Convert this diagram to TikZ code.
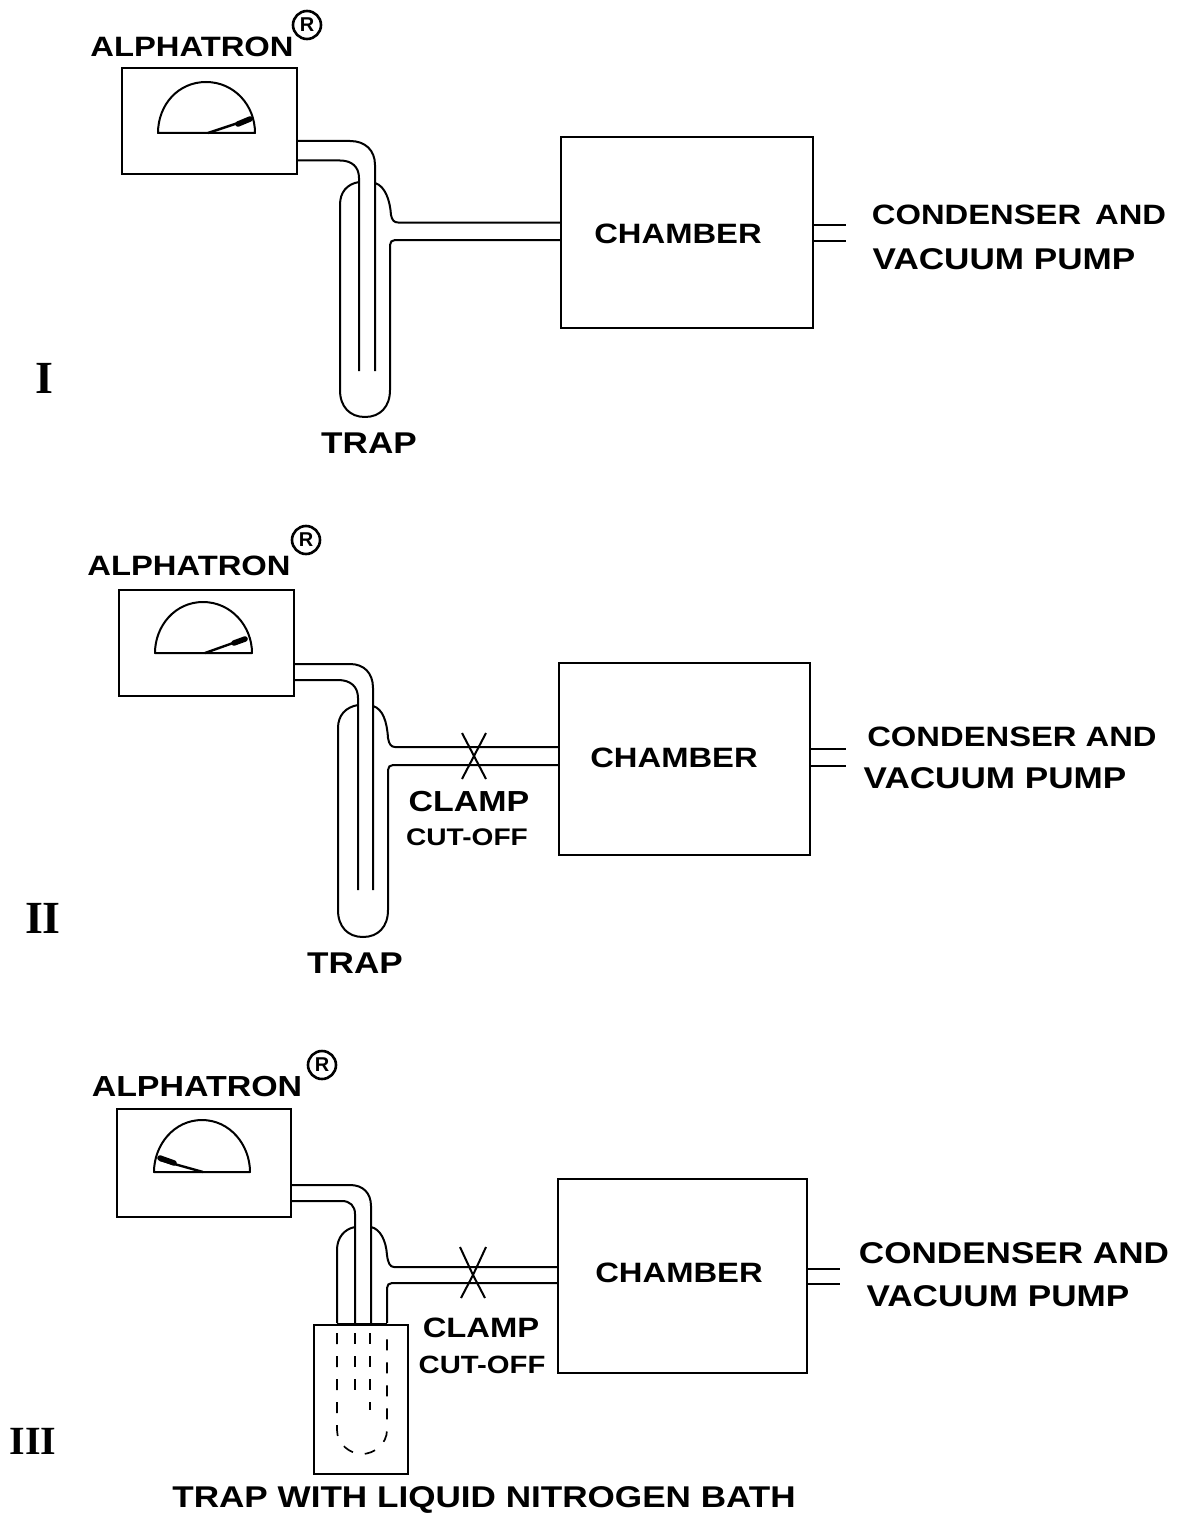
\documentclass[tikz,border=0pt]{standalone}
\usepackage{fontspec}
\setmainfont{Liberation Sans}
\newfontfamily\numfont{Liberation Serif}
\newfontfamily\lblfont[FakeStretch=1.17]{Liberation Sans}
\usetikzlibrary{arrows.meta}
\tikzset{
pipe/.style={line width=2pt,line join=round},
boxn/.style={draw,line width=2pt,inner sep=0pt},
lbl/.style={inner sep=0pt,font=\fontsize{30}{32}\selectfont\lblfont\bfseries},
namelbl/.style={inner sep=0pt,font=\fontsize{28}{30}\selectfont\lblfont\bfseries},
clamplbl/.style={inner sep=0pt,font=\fontsize{29}{31}\selectfont\lblfont\bfseries},
cutlbl/.style={inner sep=0pt,font=\fontsize{24}{26}\selectfont\lblfont\bfseries},
regmark/.style={draw,circle,line width=2.6pt,inner sep=0pt,minimum size=28pt,font=\fontsize{20}{21}\selectfont\bfseries},
numeral/.style={inner sep=0pt,font=\fontsize{46}{48}\selectfont\numfont\bfseries},
needle/.style={line width=2.4pt},
tip/.style={line width=5.5pt,line cap=round},
hiddenpipe/.style={line width=1.7pt,dash pattern=on 11pt off 12pt}
}
\begin{document}
\begin{tikzpicture}[x=1pt,y=-1pt]
\useasboundingbox(0,0)rectangle(1182,1517);
\node[namelbl](alphaA)at(192,47){ALPHATRON};
\node[regmark](regA)at(307,25){R};
\node[boxn,minimum width=175pt,minimum height=106pt](gaugeA)at(209.5,121.5){};
\draw[pipe](158,133)..controls(158,105)and(178,82)..(206,82)..controls(234,82)and(255,105)..(255,133)--cycle;
\draw[needle](208,133)--(253,118);
\draw[tip](238,124)--(250,119);
\draw[pipe](gaugeA.east|-0,141)--(350,141)..controls(365,141)and(375,150)..(375,165)--(375,371);
\draw[pipe](gaugeA.east|-0,160.5)--(340,160.5)..controls(352,160.5)and(359,167)..(359,178)--(359,371);
\node[boxn,minimum width=252pt,minimum height=191pt](chamberA)at(687,232.5){};
\node[namelbl](chamA)at(678,234){CHAMBER};
\draw[pipe](359,182)..controls(347,184)and(340,192)..(340,205)--(340,390)..controls(340,407)and(350,417)..(365,417)..controls(380,417)and(390,407)..(390,390)--(390,245)..controls(390,242)and(392,240)..(395,240)--(chamberA.west|-0,240);
\draw[pipe](375,183)..controls(385,186)and(390,200)..(391,215)..controls(392,220)and(394,222.5)..(398,222.5)--(chamberA.west|-0,222.5);
\draw[pipe](chamberA.east|-0,225)--(846,225);
\draw[pipe](chamberA.east|-0,241)--(846,241);
\node[namelbl](condA)at(1019,215){CONDENSER\hspace{14pt}AND};
\node[lbl](vacA)at(1004,259){VACUUM PUMP};
\node[lbl](trapA)at(369,443){TRAP};
\node[numeral](numA)at(44,378){I};
\node[namelbl](alphaB)at(189,566){ALPHATRON};
\node[regmark](regB)at(306,540){R};
\node[boxn,minimum width=175pt,minimum height=106pt](gaugeB)at(206.5,643){};
\draw[pipe](155,653)..controls(155,626)and(175,602)..(203,602)..controls(231,602)and(252,626)..(252,653)--cycle;
\draw[needle](205,653)--(247,638);
\draw[tip](234,643)--(245,639);
\draw[pipe](gaugeB.east|-0,664)--(350,664)..controls(364,664)and(373,673)..(373,688)--(373,890);
\draw[pipe](gaugeB.east|-0,680)--(338,680)..controls(351,680)and(358,687)..(358,698)--(358,890);
\node[boxn,minimum width=251pt,minimum height=192pt](chamberB)at(684.5,759){};
\node[namelbl](chamB)at(674,758){CHAMBER};
\draw[pipe](358,705)..controls(346,707)and(338,715)..(338,728)--(338,910)..controls(338,927)and(348,937)..(363,937)..controls(378,937)and(388,927)..(388,910)--(388,770)..controls(388,767)and(390,765)..(393,765)--(chamberB.west|-0,765);
\draw[pipe](373,706)..controls(383,709)and(387,722)..(388,738)..controls(389,744)and(391,747)..(395,747)--(chamberB.west|-0,747);
\coordinate(clampB)at(474,756);
\draw[pipe](clampB)--++(-12,-23)(clampB)--++(12,-23)(clampB)--++(-12,23)(clampB)--++(12,23);
\draw[pipe](chamberB.east|-0,749)--(846,749);
\draw[pipe](chamberB.east|-0,766)--(846,766);
\node[namelbl](condB)at(1012,737){CONDENSER AND};
\node[lbl](vacB)at(995,778){VACUUM PUMP};
\node[clamplbl](clampTextB)at(469,802){CLAMP};
\node[cutlbl](cutB)at(467,837){CUT-OFF};
\node[lbl](trapB)at(355,963){TRAP};
\node[numeral](numB)at(43,918){II};
\node[lbl,font=\fontsize{29}{31}\selectfont\lblfont\bfseries](alphaC)at(197,1087){ALPHATRON};
\node[regmark](regC)at(322,1065){R};
\node[boxn,minimum width=174pt,minimum height=108pt](gaugeC)at(204,1163){};
\draw[pipe](154,1172)..controls(154,1145)and(174,1120)..(202,1120)..controls(230,1120)and(250,1145)..(250,1172)--cycle;
\draw[needle](203,1172)--(160,1160);
\draw[tip](160,1158)--(174,1163);
\draw[pipe](gaugeC.east|-0,1185)--(350,1185)..controls(363,1185)and(371,1193)..(371,1206)--(371,1323);
\draw[pipe](gaugeC.east|-0,1201)--(342,1201)..controls(350,1201)and(355,1206)..(355,1214)--(355,1323);
\node[boxn,minimum width=249pt,minimum height=194pt](chamberC)at(682.5,1276){};
\node[namelbl](chamC)at(679,1273){CHAMBER};
\draw[pipe](355,1227)..controls(344,1229)and(337,1238)..(337,1250)--(337,1323);
\draw[pipe](387,1323)--(387,1288)..controls(387,1285)and(389,1283)..(392,1283)--(chamberC.west|-0,1283);
\draw[pipe](371,1227)..controls(380,1229)and(386,1240)..(387,1255)..controls(388,1263)and(390,1267)..(394,1267)--(chamberC.west|-0,1267);
\coordinate(clampC)at(473,1275);
\draw[pipe](clampC)--++(-13,-28)(clampC)--++(13,-28)(clampC)--++(-12,23)(clampC)--++(12,23);
\draw[pipe](chamberC.east|-0,1269)--(840,1269);
\draw[pipe](chamberC.east|-0,1284)--(840,1284);
\node[boxn,minimum width=94pt,minimum height=149pt](bathC)at(361,1399.5){};
\draw[line width=2.8pt](337,1324.5)--(387,1324.5);
\draw[hiddenpipe](337,1333)--(337,1430)..controls(337,1444)and(350,1454)..(362,1454)..controls(374,1454)and(387,1444)..(387,1430)--(387,1333);
\draw[hiddenpipe](355,1333)--(355,1400);
\draw[hiddenpipe](370,1333)--(370,1410);
\node[lbl](condC)at(1014,1253){CONDENSER AND};
\node[lbl](vacC)at(998,1296){VACUUM\hspace{10pt}PUMP};
\node[clamplbl,font=\fontsize{28}{30}\selectfont\lblfont\bfseries](clampTextC)at(481,1328){CLAMP};
\node[cutlbl,font=\fontsize{25}{27}\selectfont\lblfont\bfseries](cutC)at(482,1365){CUT-OFF};
\node[lbl](bathText)at(484,1500){TRAP WITH LIQUID NITROGEN BATH};
\node[numeral,font=\fontsize{40}{42}\selectfont\numfont\bfseries](numC)at(33,1441){III};
\end{tikzpicture}
\end{document}
